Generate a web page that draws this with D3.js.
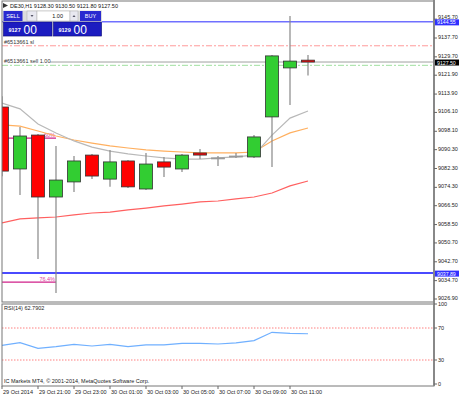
<!DOCTYPE html>
<html>
<head>
<meta charset="utf-8">
<script src="https://cdn.jsdelivr.net/npm/d3@7"></script>
<style>
  body { margin: 0; background: #fff; }
  text { font-family: "Liberation Sans", Arial, sans-serif; }
</style>
</head>
<body>
<svg id="chart" width="459" height="396"></svg>
<script>
// DE30,H1 candles (open, high, low, close)
const opens  = [9108.4, 9082.1, 9096.5, 9070.2, 9076.6, 9088.0, 9077.8, 9085.5, 9073.6, 9085.1, 9082.1, 9088.9, 9086.8, 9087.4, 9087.2, 9104.2, 9125.0, 9128.3];
const highs  = [9113.0, 9099.9, 9096.9, 9091.9, 9087.6, 9088.5, 9090.2, 9085.9, 9088.9, 9087.2, 9088.5, 9090.6, 9087.6, 9088.9, 9096.5, 9130.5, 9147.0, 9130.5];
const lows   = [9079.0, 9071.1, 9043.9, 9029.5, 9072.3, 9077.8, 9074.5, 9074.0, 9073.2, 9078.7, 9080.8, 9086.3, 9083.4, 9086.8, 9086.8, 9082.9, 9109.3, 9121.8];
const closes = [9081.2, 9096.1, 9070.2, 9077.4, 9085.5, 9079.1, 9085.1, 9074.5, 9084.2, 9082.9, 9088.0, 9088.0, 9086.8, 9087.6, 9095.7, 9130.1, 9127.9, 9127.5];

// moving averages
const maFast = [9110.1, 9107.6, 9101.2, 9097.4, 9094.0, 9091.4, 9089.7, 9088.5, 9087.6, 9086.8, 9086.3, 9086.3, 9086.8, 9087.2, 9088.0, 9096.5, 9103.7, 9106.7];
const maMid  = [9100.8, 9100.3, 9098.2, 9096.1, 9094.4, 9093.1, 9091.9, 9091.0, 9090.2, 9089.7, 9089.3, 9088.9, 9088.9, 9088.9, 9089.3, 9094.0, 9097.4, 9099.5];
const maSlow = [9059.2, 9060.9, 9061.3, 9061.7, 9062.6, 9063.4, 9063.8, 9064.7, 9065.5, 9066.4, 9067.2, 9068.1, 9068.5, 9069.4, 9070.2, 9071.9, 9074.9, 9077.0];

// RSI(14)
const rsi = [48.3, 51.6, 44.6, 46.7, 49.6, 47.5, 49.6, 46.7, 48.9, 48.8, 50.9, 50.9, 50.0, 51.3, 54.2, 64.6, 63.4, 62.8];

const priceTicks = ['9145.70', '9137.70', '9129.70', '9121.90', '9113.90', '9106.10', '9098.10', '9090.30', '9082.30', '9074.30', '9066.50', '9058.50', '9050.70', '9042.70', '9034.70', '9026.90'];
const timeLabels = ['29 Oct 2014', '29 Oct 21:00', '29 Oct 23:00', '30 Oct 01:00', '30 Oct 03:00', '30 Oct 05:00', '30 Oct 07:00', '30 Oct 09:00', '30 Oct 11:00'];
const rsiTicks = [100, 70, 30, 0];

// levels
const highLine = 9144.55, lowLine = 9037.89, bid = 9127.50;
const slLevel = 9134.4, entryLevel = 9126.1;
const fibLevels = [9095.2, 9034.1], fibNames = ['60%', '76.4%'];

const svg = d3.select('#chart');
const L = 2, R = 434;			// plot left / right
const mainTop = 1, mainBot = 302, rsiTop = 304, rsiBot = 386;

const x = d3.scaleLinear().domain([0, 1]).range([2, 20]);		// 18px per hour
const y = d3.scaleLinear().domain([9026.90, 9137.70]).range([299, 38]);
const yr = d3.scaleLinear().domain([0, 100]).range([384, 304]);

svg.append('rect').attr('width', 459).attr('height', 396).attr('fill', '#fff');

svg.append('clipPath').attr('id', 'mainClip')
	.append('rect').attr('x', L).attr('y', mainTop).attr('width', R - L).attr('height', mainBot - mainTop);

const g = svg.append('g').attr('clip-path', 'url(#mainClip)');

// horizontal level lines
g.append('line').attr('x1', L).attr('x2', R).attr('y1', y(highLine)).attr('y2', y(highLine))
	.attr('stroke', '#7070ff').attr('stroke-width', 1.5);
g.append('line').attr('x1', L).attr('x2', R).attr('y1', y(lowLine)).attr('y2', y(lowLine))
	.attr('stroke', '#4a4aff').attr('stroke-width', 2);
g.append('line').attr('x1', L).attr('x2', R).attr('y1', y(slLevel)).attr('y2', y(slLevel))
	.attr('stroke', '#ff9a9a').attr('stroke-width', 1).attr('stroke-dasharray', '6,2,2,2');
g.append('line').attr('x1', 50).attr('x2', R).attr('y1', y(bid)).attr('y2', y(bid))
	.attr('stroke', '#a0a0a0').attr('stroke-width', 1);
g.append('line').attr('x1', L).attr('x2', R).attr('y1', y(entryLevel)).attr('y2', y(entryLevel))
	.attr('stroke', '#a0e0a0').attr('stroke-width', 1).attr('stroke-dasharray', '6,2,2,2');

g.append('text').attr('x', 4).attr('y', y(slLevel) - 1.5).attr('font-size', 5.5).attr('fill', '#333').text('#6513661 sl');
g.append('text').attr('x', 4).attr('y', y(bid) + 1).attr('font-size', 5.5).attr('fill', '#333').text('#6513661 sell 1.00');

// fibonacci levels
fibLevels.forEach(function(v, i) {
	g.append('line').attr('x1', L).attr('x2', 56).attr('y1', y(v)).attr('y2', y(v))
		.attr('stroke', '#d0208a').attr('stroke-width', 1.2);
	g.append('text').attr('x', 55).attr('y', y(v) - 1).attr('text-anchor', 'end')
		.attr('font-size', 5.5).attr('fill', '#e040a0').text(fibNames[i]);
});

// moving averages
const maLine = d3.line().x(function(d, i) { return x(i); }).y(function(d) { return y(d); });
g.append('path').attr('d', maLine(maSlow)).attr('fill', 'none').attr('stroke', '#ff6060').attr('stroke-width', 1.2);
g.append('path').attr('d', maLine(maMid)).attr('fill', 'none').attr('stroke', '#ffb060').attr('stroke-width', 1.2);
g.append('path').attr('d', maLine(maFast)).attr('fill', 'none').attr('stroke', '#b8b8b8').attr('stroke-width', 1.2);

// candles
const idx = d3.range(opens.length);
g.selectAll('.wick').data(idx).enter().append('line')
	.attr('x1', function(i) { return x(i); }).attr('x2', function(i) { return x(i); })
	.attr('y1', function(i) { return y(highs[i]); }).attr('y2', function(i) { return y(lows[i]); })
	.attr('stroke', '#888').attr('stroke-width', 1.2);

g.selectAll('.body').data(idx).enter().append('rect')
	.attr('x', function(i) { return x(i) - 6.5; })
	.attr('width', 13)
	.attr('y', function(i) { return y(Math.max(opens[i], closes[i])); })
	.attr('height', function(i) { return Math.max(1, Math.abs(y(opens[i]) - y(closes[i]))); })
	.attr('fill', function(i) {
		if (Math.abs(opens[i] - closes[i]) < 0.3) return '#999';
		return closes[i] > opens[i] ? '#32cd32' : '#ff0000';
	})
	.attr('stroke', function(i) { return Math.abs(opens[i] - closes[i]) < 0.3 ? '#999' : '#333'; })
	.attr('stroke-width', 0.8);

// RSI panel
svg.append('line').attr('x1', L).attr('x2', R).attr('y1', yr(70)).attr('y2', yr(70))
	.attr('stroke', '#ff8080').attr('stroke-dasharray', '1.5,1.5');
svg.append('line').attr('x1', L).attr('x2', R).attr('y1', yr(30)).attr('y2', yr(30))
	.attr('stroke', '#ff8080').attr('stroke-dasharray', '1.5,1.5');
svg.append('path').attr('d', d3.line().x(function(d, i) { return x(i); }).y(function(d) { return yr(d); })(rsi))
	.attr('fill', 'none').attr('stroke', '#70b0ff').attr('stroke-width', 1.2);

svg.append('text').attr('x', 4).attr('y', 310).attr('font-size', 5.5).attr('fill', '#222').text('RSI(14) 62.7902');
svg.append('text').attr('x', 4).attr('y', 383).attr('font-size', 5.5).attr('fill', '#222').text('IC Markets MT4, © 2001-2014, MetaQuotes Software Corp.');

// panel frames
svg.append('rect').attr('x', L).attr('y', mainTop).attr('width', R - L).attr('height', mainBot - mainTop)
	.attr('fill', 'none').attr('stroke', '#777').attr('stroke-width', 1);
svg.append('rect').attr('x', L).attr('y', rsiTop).attr('width', R - L).attr('height', rsiBot - rsiTop)
	.attr('fill', 'none').attr('stroke', '#777').attr('stroke-width', 1);
svg.append('line').attr('x1', R).attr('x2', R).attr('y1', 0).attr('y2', rsiBot)
	.attr('stroke', '#888').attr('stroke-width', 2);

// price axis
const pa = svg.append('g');
const tags = [highLine, bid, lowLine];
priceTicks.forEach(function(t) {
	const yy = y(+t);
	let ty = yy + 1;
	// nudge a tick label clear of a highlighted tag just below it
	tags.forEach(function(v) {
		const d = y(v) - yy;
		if (d > 0 && d < 6) ty = Math.min(ty, y(v) - 3.2);
	});
	pa.append('line').attr('x1', R).attr('x2', R + 3).attr('y1', yy).attr('y2', yy).attr('stroke', '#666');
	pa.append('text').attr('x', R + 4).attr('y', ty).attr('font-size', 5.5).attr('fill', '#222').text(t);
});
rsiTicks.forEach(function(t) {
	pa.append('line').attr('x1', R).attr('x2', R + 3).attr('y1', yr(t)).attr('y2', yr(t)).attr('stroke', '#666');
	pa.append('text').attr('x', R + 4).attr('y', yr(t) + 2).attr('font-size', 5.5).attr('fill', '#222').text(t);
});

// highlighted price labels
function priceTag(v, bg) {
	const yy = y(v);
	pa.append('rect').attr('x', R + 1).attr('y', yy - 2.5).attr('width', 24).attr('height', 6).attr('fill', bg);
	pa.append('text').attr('x', R + 3).attr('y', yy + 2.5).attr('font-size', 5.2).attr('fill', '#fff').text(v.toFixed(2));
}
tags.forEach(function(v) { priceTag(v, v === bid ? '#000' : '#3030ff'); });

// time axis
timeLabels.forEach(function(t, i) {
	svg.append('line').attr('x1', x(2 * i)).attr('x2', x(2 * i)).attr('y1', rsiBot).attr('y2', rsiBot + 3).attr('stroke', '#666');
	svg.append('text').attr('x', x(2 * i) + 1).attr('y', 394).attr('font-size', 5.5).attr('fill', '#222').text(t);
});

// header
svg.append('path').attr('d', 'M3,3 L8,5.5 L3,8 Z').attr('fill', '#333');
svg.append('text').attr('x', 10).attr('y', 8).attr('font-size', 5.5).attr('fill', '#111')
	.text('DE30,H1  9128.30 9130.50 9121.80 9127.50');

// one-click trading panel
const panel = svg.append('g');
panel.append('rect').attr('x', 3).attr('y', 10.5).attr('width', 99).attr('height', 26).attr('fill', '#ddd');
panel.append('rect').attr('x', 3.5).attr('y', 11).attr('width', 19).attr('height', 10).attr('fill', '#2a2ad0');
panel.append('text').attr('x', 13).attr('y', 18).attr('text-anchor', 'middle').attr('font-size', 5.5).attr('fill', '#fff').text('SELL');
panel.append('rect').attr('x', 27).attr('y', 11).attr('width', 10).attr('height', 10).attr('fill', '#e8e8f0').attr('stroke', '#aaa').attr('stroke-width', 0.5);
panel.append('path').attr('d', 'M30.5,15 L33.5,15 L32,17 Z').attr('fill', '#556');
panel.append('rect').attr('x', 37).attr('y', 11).attr('width', 33).attr('height', 10).attr('fill', '#fff').attr('stroke', '#aaa').attr('stroke-width', 0.5);
panel.append('text').attr('x', 63).attr('y', 18).attr('text-anchor', 'end').attr('font-size', 5.5).attr('fill', '#111').text('1.00');
panel.append('rect').attr('x', 70).attr('y', 11).attr('width', 8).attr('height', 10).attr('fill', '#e8e8f0').attr('stroke', '#aaa').attr('stroke-width', 0.5);
panel.append('path').attr('d', 'M72.5,17 L75.5,17 L74,15 Z').attr('fill', '#556');
panel.append('rect').attr('x', 80).attr('y', 11).attr('width', 21).attr('height', 10).attr('fill', '#2a2ad0');
panel.append('text').attr('x', 90.5).attr('y', 18).attr('text-anchor', 'middle').attr('font-size', 5.5).attr('fill', '#fff').text('BUY');

[[3.5, 48.5, '9127'], [53.5, 48, '9129']].forEach(function(b) {
	panel.append('rect').attr('x', b[0]).attr('y', 22).attr('width', b[1]).attr('height', 14)
		.attr('fill', '#1c1cc0').attr('stroke', '#0c0c80').attr('stroke-width', 0.6);
	panel.append('text').attr('x', b[0] + 5).attr('y', 32).attr('font-size', 5.5).attr('font-weight', 'bold').attr('fill', '#fff').text(b[2]);
	panel.append('text').attr('x', b[0] + 20).attr('y', 33.5).attr('font-size', 12).attr('fill', '#fff').text('00');
});
</script>
</body>
</html>
